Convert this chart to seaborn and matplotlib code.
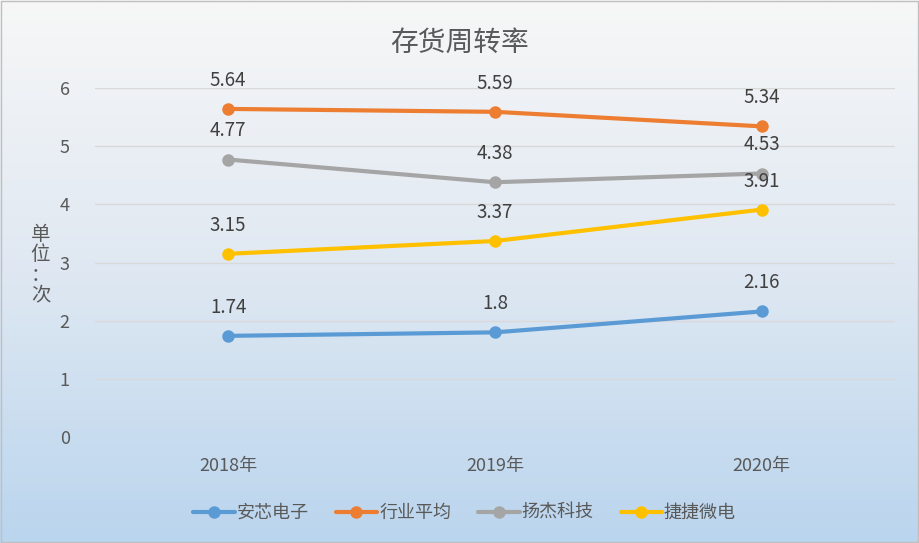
import numpy as np
import pandas as pd
import matplotlib.pyplot as plt
import seaborn as sns
from matplotlib.colors import LinearSegmentedColormap

years = ['2018年', '2019年', '2020年']
companies = ['安芯电子', '行业平均', '扬杰科技', '捷捷微电']
anxin = [1.74, 1.8, 2.16]
hangye = [5.64, 5.59, 5.34]
yangjie = [4.77, 4.38, 4.53]
jiejie = [3.15, 3.37, 3.91]
colors = ['#5b9bd5', '#ed7d31', '#a5a5a5', '#ffc000']

rows = []
for name, vals in zip(companies, [anxin, hangye, yangjie, jiejie]):
    for i, v in enumerate(vals):
        rows.append({'year': i, 'company': name, 'value': v})
df = pd.DataFrame(rows)

sns.set_style('white')
plt.rcParams['font.family'] = ['Noto Sans CJK SC', 'DejaVu Sans']
txt = '#595959'

fig = plt.figure(figsize=(9.2, 5.43), dpi=100)

# gradient background
bg = fig.add_axes([0, 0, 1, 1], zorder=-10)
cmap = LinearSegmentedColormap.from_list('bg', ['#f7f7f7', '#dfe8f2', '#bad5ee'])
grad = np.linspace(0, 1, 256).reshape(-1, 1)
bg.imshow(grad, aspect='auto', cmap=cmap, extent=[0, 1, 0, 1], origin='upper')
bg.set_axis_off()
bg.add_patch(plt.Rectangle((0.001, 0.002), 0.997, 0.996, fill=False,
                           edgecolor='#bfbfbf', lw=1, transform=bg.transAxes))

ax = fig.add_axes([0.103, 0.195, 0.87, 0.643])
ax.patch.set_alpha(0)
sns.lineplot(data=df, x='year', y='value', hue='company', hue_order=companies,
             palette=colors, marker='o', markersize=9, markeredgewidth=0,
             linewidth=3, ax=ax)

for name, vals in zip(companies, [anxin, hangye, yangjie, jiejie]):
    for i, v in enumerate(vals):
        ax.annotate(f'{v:g}', (i, v), xytext=(0, 13), textcoords='offset points',
                    ha='center', va='bottom', fontsize=13.5, color='#404040')

ax.set_xlim(-0.5, 2.5)
ax.set_ylim(0, 6)
ax.set_yticks(range(0, 7))
ax.set_xticks(range(3))
ax.set_xticklabels(years)
ax.tick_params(axis='both', length=0, labelsize=13, colors=txt)
ax.tick_params(axis='x', pad=14)
ax.tick_params(axis='y', pad=18)
ax.grid(axis='y', color='#d9d9d9', lw=1)
ax.set_axisbelow(True)
for s in ax.spines.values():
    s.set_visible(False)
ax.set_xlabel('')
ax.set_ylabel('')

fig.text(0.044, 0.512, '单\n位\n：\n次', ha='center', va='center',
         fontsize=14, color=txt, linespacing=0.95)
fig.text(0.5, 0.922, '存货周转率', ha='center', va='center', fontsize=20, color=txt)

handles, labels = ax.get_legend_handles_labels()
ax.get_legend().remove()
leg = fig.legend(handles, labels, loc='center', bbox_to_anchor=(0.505, 1 - 513 / 543),
                 ncol=4, frameon=False, fontsize=13, handlelength=2.3,
                 columnspacing=1.5, handletextpad=0.1)
for t in leg.get_texts():
    t.set_color(txt)

fig.savefig('out.png', dpi=100)
